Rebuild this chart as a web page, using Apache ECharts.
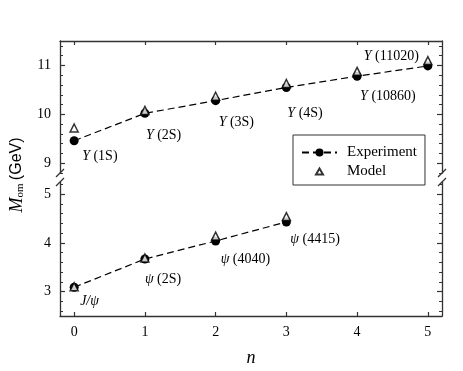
<!DOCTYPE html>
<html>
<head>
<meta charset="utf-8">
<script src="https://cdn.jsdelivr.net/npm/echarts@6/dist/echarts.min.js"></script>
<style>
  html, body { margin: 0; padding: 0; background: #fff; }
  #chart { width: 463px; height: 371px; }
</style>
</head>
<body>
<div id="chart"></div>
<script>
// radial quantum number n
const nUpsilon = [0, 1, 2, 3, 4, 5];
const nPsi = [0, 1, 2, 3];

// bottomonium (GeV)
const upsilonExp = [9.46, 10.02, 10.28, 10.55, 10.78, 10.99];
const upsilonModel = [9.72, 10.08, 10.37, 10.63, 10.88, 11.10];
const upsilonNames = ["{i|Υ} (1S)", "{i|Υ} (2S)", "{i|Υ} (3S)", "{i|Υ} (4S)", "{i|Υ} (10860)", "{i|Υ} (11020)"];

// charmonium (GeV)
const psiExp = [3.09, 3.67, 4.04, 4.43];
const psiModel = [3.10, 3.69, 4.14, 4.54];
const psiNames = ["{i|J/ψ}", "{i|ψ} (2S)", "{i|ψ} (4040)", "{i|ψ} (4415)"];

// ticks
const xTicks = [0, 1, 2, 3, 4, 5];
const topMajor = [9, 10, 11];
const topMinor = [8.8, 9.0, 9.2, 9.4, 9.6, 9.8, 10.0, 10.2, 10.4, 10.6, 10.8, 11.0, 11.2, 11.4];
const botMajor = [3, 4, 5];
const botMinor = [2.6, 2.8, 3.0, 3.2, 3.4, 3.6, 3.8, 4.0, 4.2, 4.4, 4.6, 4.8, 5.0, 5.2];

// label placement (px from point: dx, dy, align)
const upsilonLabelPos = [[8, 16, "left"], [1, 22, "left"], [3, 22, "left"], [1, 26, "left"], [3, 20, "left"], [-9, -10, "right"]];
const psiLabelPos = [[6, 14, "left"], [0, 20, "left"], [5, 18, "left"], [4, 17, "left"]];

const serif = "Liberation Serif";
const axisColor = "#333";
const G_LEFT = 60, G_RIGHT = 21;
const TOP_Y = 41, TOP_H = 132;
const BOT_Y = 182, BOT_H = 134;

const chart = echarts.init(document.getElementById("chart"));

const labelRich = {
  i: { fontStyle: "italic", fontFamily: serif, fontSize: 14, color: "#000" },
};

function expData(ns, vals, names, pos) {
  return ns.map((n, k) => ({
    value: [n, vals[k]],
    label: {
      show: true,
      position: "inside",
      align: pos[k][2],
      verticalAlign: "middle",
      offset: [pos[k][0], pos[k][1]],
      formatter: names[k],
    },
  }));
}

function yAxes(gi, min, max, major, minor) {
  const base = {
    gridIndex: gi, type: "value", min: min, max: max,
    splitLine: { show: false },
  };
  const line = { show: true, onZero: false, lineStyle: { color: axisColor, width: 1.3 } };
  const noLine = { show: false, onZero: false };
  return [
    Object.assign({}, base, {
      position: "left", axisLine: line,
      axisTick: { inside: true, length: 5, customValues: major, lineStyle: { color: axisColor, width: 1.2 } },
      axisLabel: { customValues: major, margin: 9, fontFamily: serif, fontSize: 14, color: "#000" },
    }),
    Object.assign({}, base, {
      position: "left", axisLine: noLine,
      axisTick: { inside: true, length: 3, customValues: minor, lineStyle: { color: axisColor, width: 1 } },
      axisLabel: { show: false },
    }),
    Object.assign({}, base, {
      position: "right", axisLine: line,
      axisTick: { inside: true, length: 5, customValues: major, lineStyle: { color: axisColor, width: 1.2 } },
      axisLabel: { show: false },
    }),
    Object.assign({}, base, {
      position: "right", axisLine: noLine,
      axisTick: { inside: true, length: 3, customValues: minor, lineStyle: { color: axisColor, width: 1 } },
      axisLabel: { show: false },
    }),
  ];
}

// break marks at panel ends
const breakMarks = [];
[G_LEFT, 463 - G_RIGHT].forEach((x) => {
  [TOP_Y + TOP_H, BOT_Y].forEach((y) => {
    breakMarks.push({
      type: "line",
      shape: { x1: x - 4, y1: y + 4, x2: x + 4, y2: y - 4 },
      style: { stroke: axisColor, lineWidth: 1.2 },
    });
  });
});

const expLine = {
  type: "line",
  name: "Experiment",
  symbol: "circle",
  symbolSize: 9,
  itemStyle: { color: "#000" },
  lineStyle: { color: "#000", width: 1.2, type: [7, 4] },
  label: { color: "#000", fontFamily: serif, fontSize: 14, rich: labelRich },
  z: 2,
};
const modelPts = {
  type: "scatter",
  name: "Model",
  symbol: "triangle",
  symbolSize: 8,
  itemStyle: { color: "#fff", borderColor: "#000", borderWidth: 1.5 },
  z: 3,
};

chart.setOption({
  animation: false,
  grid: [
    { left: G_LEFT, right: G_RIGHT, top: TOP_Y, height: TOP_H },
    { left: G_LEFT, right: G_RIGHT, top: BOT_Y, height: BOT_H },
  ],
  xAxis: [
    {
      gridIndex: 0, type: "value", position: "top", min: -0.2, max: 5.2,
      axisLine: { show: true, onZero: false, lineStyle: { color: axisColor, width: 1.3 } },
      axisTick: { inside: true, length: 4, customValues: xTicks, lineStyle: { color: axisColor, width: 1.2 } },
      axisLabel: { show: false },
      splitLine: { show: false },
    },
    {
      gridIndex: 1, type: "value", position: "bottom", min: -0.2, max: 5.2,
      name: "n", nameLocation: "middle", nameGap: 33,
      nameTextStyle: { fontFamily: serif, fontStyle: "italic", fontSize: 18, color: "#000" },
      axisLine: { show: true, onZero: false, lineStyle: { color: axisColor, width: 1.3 } },
      axisTick: { inside: true, length: 4, customValues: xTicks, lineStyle: { color: axisColor, width: 1.2 } },
      axisLabel: { customValues: xTicks, margin: 9, fontFamily: serif, fontSize: 14, color: "#000" },
      splitLine: { show: false },
    },
  ],
  yAxis: [].concat(
    yAxes(0, 8.8, 11.5, topMajor, topMinor),
    yAxes(1, 2.5, 5.25, botMajor, botMinor)
  ),
  legend: {
    left: 293, top: 135, orient: "vertical",
    data: [
      { name: "Experiment" },
      { name: "Model", icon: "path://M-4,-4M18,16M0,12L7,0L14,12Z" },
    ],
    backgroundColor: "#fff",
    borderColor: "#333", borderWidth: 1, borderRadius: 0,
    padding: [10, 8, 6, 8],
    itemWidth: 35, itemHeight: 10, itemGap: 4,
    textStyle: { fontFamily: serif, fontSize: 15, color: "#000", lineHeight: 15, padding: [0, 0, 0, 5] },
  },
  graphic: [
    {
      type: "text", x: 17, y: 175, rotation: Math.PI / 2,
      style: {
        text: "{m|M}{s|om} {g|(GeV)}",
        align: "center", verticalAlign: "middle",
        rich: {
          m: { fontFamily: serif, fontStyle: "italic", fontSize: 18, fill: "#000" },
          s: { fontFamily: serif, fontSize: 11, fill: "#000", verticalAlign: "bottom", padding: [6, 0, 0, 0] },
          g: { fontFamily: "Liberation Sans", fontSize: 16, fill: "#000" },
        },
      },
    },
  ].concat(breakMarks),
  series: [
    Object.assign({}, expLine, {
      xAxisIndex: 0, yAxisIndex: 0,
      data: expData(nUpsilon, upsilonExp, upsilonNames, upsilonLabelPos),
    }),
    Object.assign({}, modelPts, {
      xAxisIndex: 0, yAxisIndex: 0,
      data: nUpsilon.map((n, k) => [n, upsilonModel[k]]),
    }),
    Object.assign({}, expLine, {
      xAxisIndex: 1, yAxisIndex: 4,
      data: expData(nPsi, psiExp, psiNames, psiLabelPos),
    }),
    Object.assign({}, modelPts, {
      xAxisIndex: 1, yAxisIndex: 4,
      data: nPsi.map((n, k) => [n, psiModel[k]]),
    }),
  ],
});

window.addEventListener("resize", () => {
  chart.resize();
});
</script>
</body>
</html>
